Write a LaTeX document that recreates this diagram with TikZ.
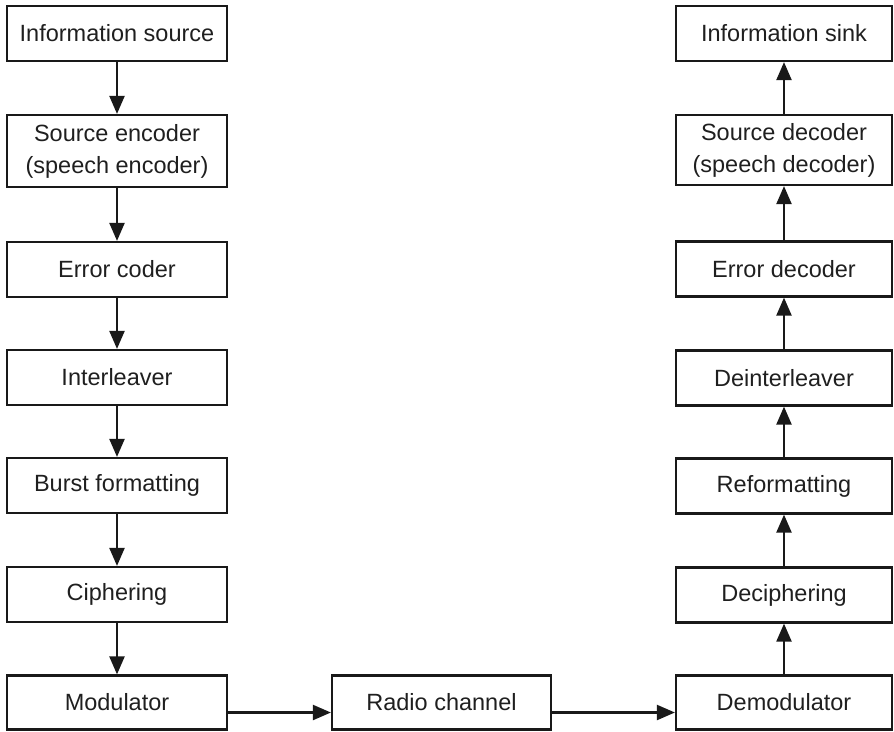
\documentclass[tikz,border=0pt]{standalone}
\usepackage{fontspec}
\setmainfont{Liberation Sans}
\usetikzlibrary{arrows.meta}
\begin{document}
\begin{tikzpicture}[x=1pt,y=-1pt,
  blk/.style={draw=black!90, line width=2.2pt, rectangle, minimum height=55pt,
    inner sep=0pt, align=center, text=black!88,
    font=\fontsize{23.5}{32}\selectfont},
  lblk/.style={blk, minimum width=220pt},
  rblk/.style={blk, minimum width=216pt},
  flow/.style={line width=2.2pt, draw=black!90,
    -{Triangle[length=18pt,width=15pt]}}]
\useasboundingbox (0,0) rectangle (894,731);
% transmitter chain
\node[lblk] (src)  at (117,33.5)  {Information source};
\node[lblk, minimum height=72pt] (senc) at (117,151) {Source encoder\\(speech encoder)};
\node[lblk] (ecod) at (117,269.5) {Error coder};
\node[lblk] (intl) at (117,377.5) {Interleaver};
\node[lblk] (burst) at (117,485.5) {Burst formatting};
\node[lblk] (ciph) at (117,594.5) {Ciphering};
\node[lblk, minimum height=54pt] (mod) at (117,702.5) {Modulator};
% channel
\node[blk, minimum width=219pt, minimum height=54pt] (chan) at (441.5,702.5) {Radio channel};
% receiver chain
\node[rblk] (sink) at (784,33.5) {Information sink};
\node[rblk, minimum height=70pt] (sdec) at (784,150) {Source decoder\\(speech decoder)};
\node[rblk] (edec) at (784,269) {Error decoder};
\node[rblk] (dint) at (784,378) {Deinterleaver};
\node[rblk] (refm) at (784,486) {Reformatting};
\node[rblk] (dciph) at (784,595) {Deciphering};
\node[rblk, minimum height=54pt] (demod) at (784,702.5) {Demodulator};
% connectors
\coordinate (hy) at (0,712.5);
\draw[flow] (src) -- (senc);
\draw[flow] (senc) -- (ecod);
\draw[flow] (ecod) -- (intl);
\draw[flow] (intl) -- (burst);
\draw[flow] (burst) -- (ciph);
\draw[flow] (ciph) -- (mod);
\draw[flow] (mod.east |- hy) -- (chan.west |- hy);
\draw[flow] (chan.east |- hy) -- (demod.west |- hy);
\draw[flow] (demod) -- (dciph);
\draw[flow] (dciph) -- (refm);
\draw[flow] (refm) -- (dint);
\draw[flow] (dint) -- (edec);
\draw[flow] (edec) -- (sdec);
\draw[flow] (sdec) -- (sink);
\end{tikzpicture}
\end{document}
